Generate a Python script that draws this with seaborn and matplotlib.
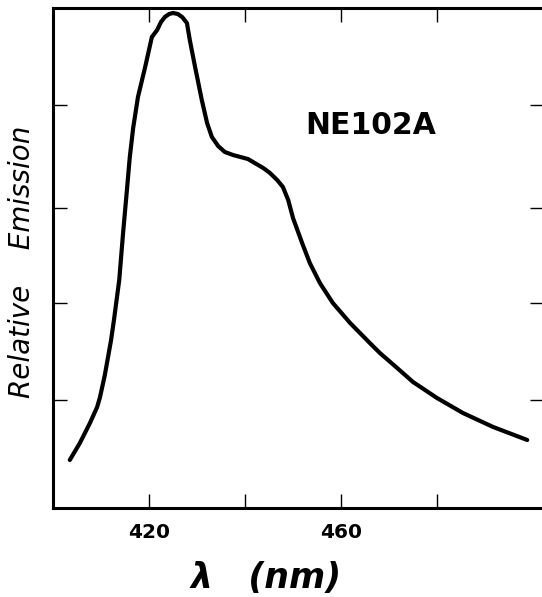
import matplotlib
matplotlib.use("Agg")
import matplotlib.pyplot as plt
import seaborn as sns
import pandas as pd

# Wavelength (nm) and relative emission (arbitrary units)
wavelength = [403.5, 405.6, 407.7, 409.2, 409.8, 410.8, 412.1, 412.7, 413.8, 414.6,
              415.4, 416.0, 416.7, 417.7, 419.2, 420.6, 421.7, 422.5, 423.3, 424.2,
              425.0, 426.0, 426.9, 427.9, 428.5, 429.6, 431.0, 432.1, 433.1, 434.4,
              435.8, 437.5, 440.6, 443.8, 445.2, 446.7, 447.9, 449.0, 450.0, 451.9,
              453.5, 455.6, 458.3, 461.9, 466.0, 468.1, 471.7, 475.0, 480.0, 485.4,
              491.7, 498.8]
emission = [0.48, 0.65, 0.85, 1.01, 1.11, 1.33, 1.68, 1.88, 2.28, 2.75,
            3.18, 3.51, 3.80, 4.11, 4.41, 4.71, 4.78, 4.86, 4.91, 4.94,
            4.95, 4.94, 4.91, 4.85, 4.68, 4.41, 4.08, 3.85, 3.71, 3.62,
            3.56, 3.53, 3.49, 3.40, 3.35, 3.28, 3.21, 3.08, 2.90, 2.65,
            2.45, 2.25, 2.05, 1.85, 1.65, 1.55, 1.40, 1.26, 1.10, 0.95,
            0.81, 0.68]

x_ticks = [420, 440, 460, 480]
x_tick_labels = ["420", "", "460", ""]
y_ticks = [1.08, 2.05, 3.0, 4.03]

df = pd.DataFrame({"wavelength": wavelength, "emission": emission})

sns.set_style("ticks")
plt.rcParams["font.family"] = ["DejaVu Sans"]
plt.rcParams["text.color"] = "black"
plt.rcParams["xtick.color"] = "black"
plt.rcParams["ytick.color"] = "black"

fig = plt.figure(figsize=(5.42, 5.97), dpi=100)
ax = fig.add_axes([53 / 542, 1 - 508 / 597, (544 - 53) / 542, 500 / 597])

sns.lineplot(data=df, x="wavelength", y="emission", ax=ax, color="black",
             linewidth=3.0, sort=False, estimator=None,
             solid_joinstyle="round", solid_capstyle="round")

ax.set_xlim(400, 400 + (544 - 53) / 4.8)
ax.set_ylim(0, 5.0)

ax.set_xticks(x_ticks)
ax.set_xticklabels(x_tick_labels, fontsize=14.5, fontweight="bold", color="black")
ax.set_yticks(y_ticks)
ax.set_yticklabels([])

ax.tick_params(axis="both", which="major", direction="in", length=10, width=1.0,
               top=True, right=True, color="black", pad=11)
for side in ["left", "bottom", "top", "right"]:
    ax.spines[side].set_linewidth(2.2)
    ax.spines[side].set_color("black")

ax.set_xlabel("")
ax.set_ylabel("")

fig.text(371 / 542, 1 - 125 / 597, "NE102A", fontsize=21.5, fontweight="heavy",
         ha="center", va="center", color="black")
fig.text(266 / 542, 1 - 578 / 597, "λ   (nm)", fontsize=25, fontstyle="italic",
         fontweight="bold", ha="center", va="center", color="black")
fig.text(22 / 542, 1 - 262 / 597, "Relative    Emission", fontsize=20,
         fontstyle="italic", rotation=90, ha="center", va="center", color="black")

fig.savefig("out.png", dpi=100)
